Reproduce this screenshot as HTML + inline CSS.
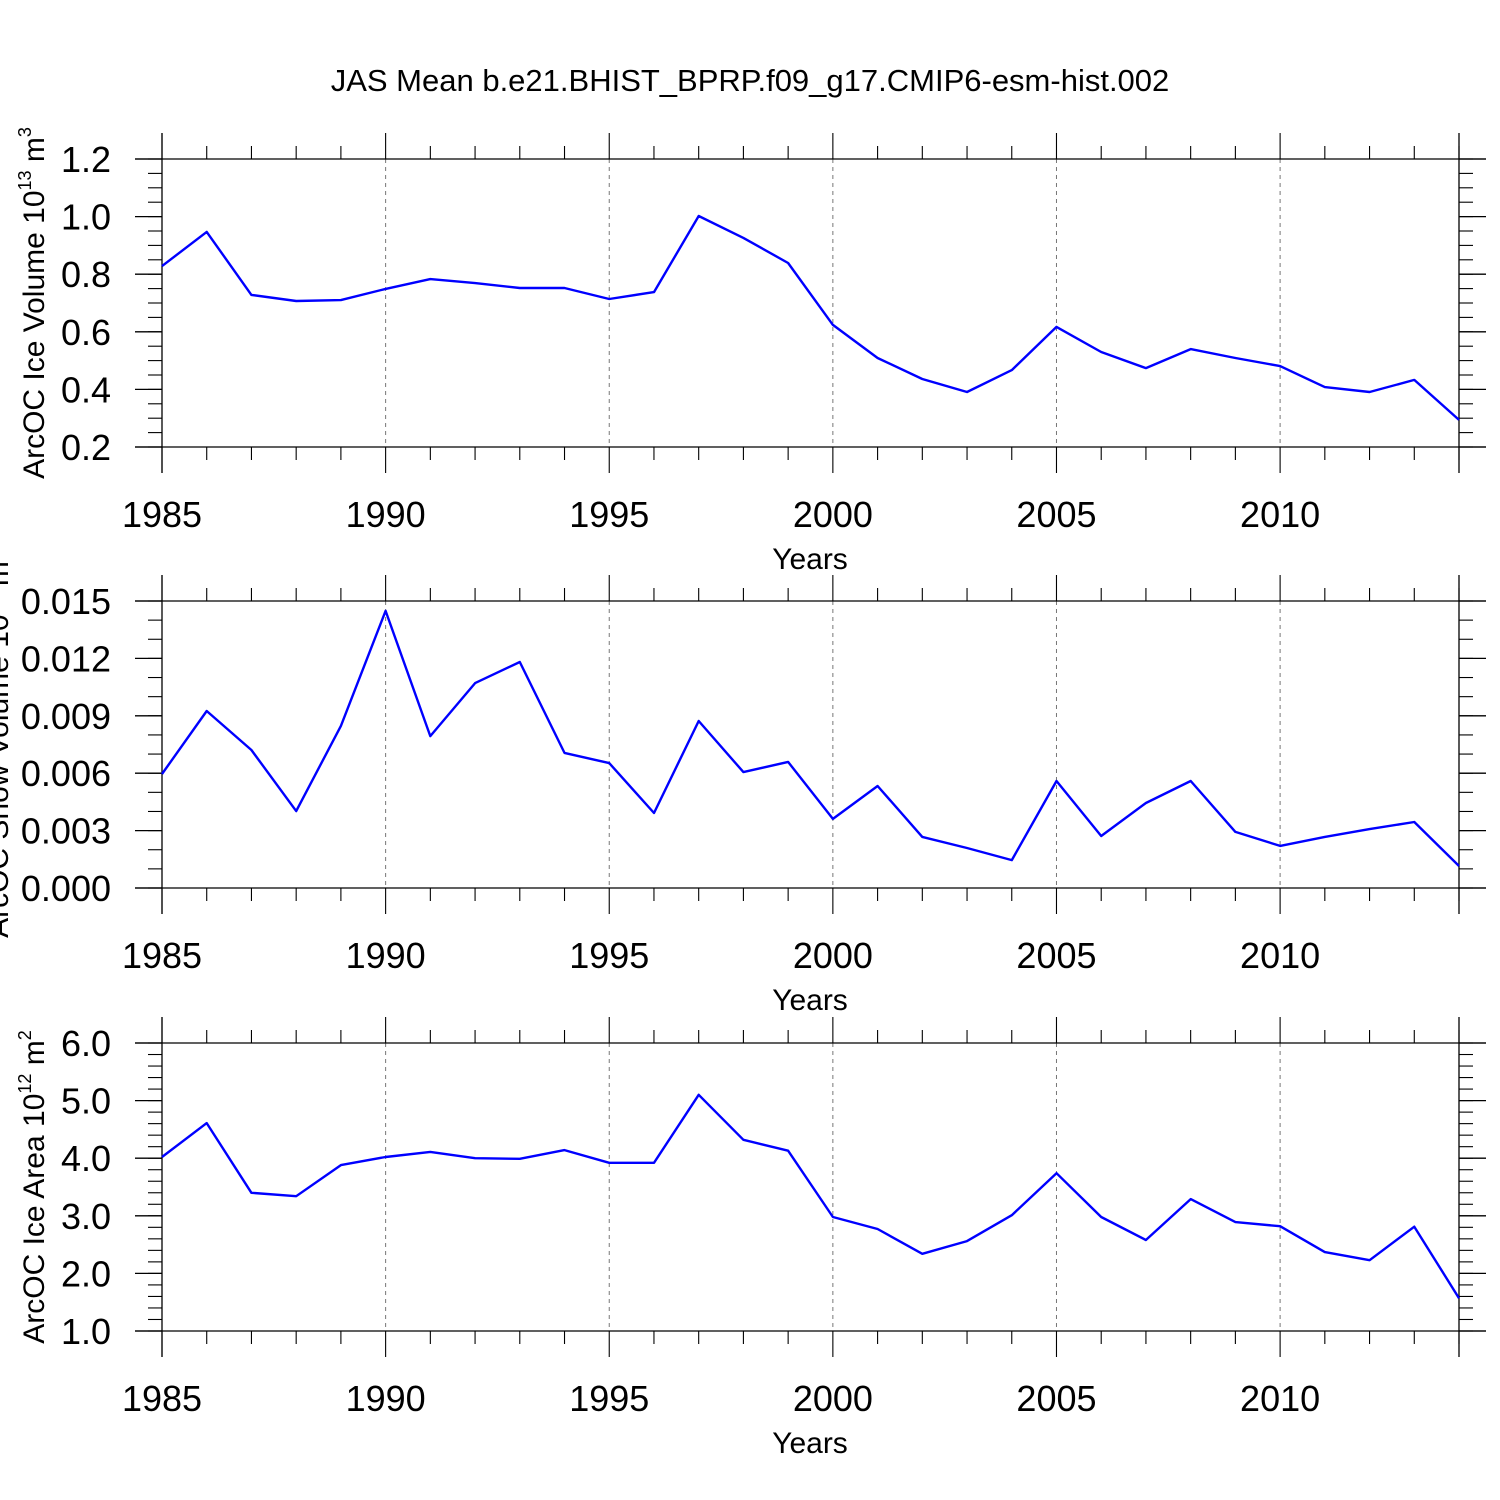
<!DOCTYPE html>
<html><head><meta charset="utf-8"><style>
html,body{margin:0;padding:0;background:#fff}
svg{display:block;font-family:"Liberation Sans",sans-serif}
</style></head><body>
<svg id="chart" width="1500" height="1500" viewBox="0 0 1500 1500" xmlns="http://www.w3.org/2000/svg">
<text x="750" y="91" text-anchor="middle" font-size="31">JAS Mean b.e21.BHIST_BPRP.f09_g17.CMIP6-esm-hist.002</text>
</svg>
<script>
const years = [1985,1986,1987,1988,1989,1990,1991,1992,1993,1994,1995,1996,1997,1998,1999,2000,2001,2002,2003,2004,2005,2006,2007,2008,2009,2010,2011,2012,2013,2014];
const iceVolume = [0.828,0.947,0.728,0.707,0.710,0.749,0.783,0.769,0.752,0.752,0.714,0.738,1.002,0.926,0.839,0.624,0.509,0.436,0.391,0.467,0.617,0.530,0.474,0.540,0.509,0.481,0.408,0.391,0.433,0.294];
const snowVolume = [0.00596,0.00925,0.00721,0.00402,0.00847,0.01448,0.00794,0.01071,0.01181,0.00706,0.00653,0.00392,0.00873,0.00606,0.00659,0.00361,0.00533,0.00267,0.00209,0.00146,0.00559,0.00272,0.00444,0.00559,0.00293,0.00220,0.00267,0.00308,0.00345,0.00115];
const iceArea = [4.02,4.61,3.40,3.34,3.88,4.02,4.11,4.00,3.99,4.14,3.92,3.92,5.10,4.32,4.13,2.98,2.77,2.34,2.56,3.01,3.74,2.98,2.58,3.29,2.89,2.82,2.37,2.23,2.81,1.57];
const xTickLabels = ["1985","1990","1995","2000","2005","2010"];
const volTicks = ["0.2","0.4","0.6","0.8","1.0","1.2"];
const snowTicks = ["0.000","0.003","0.006","0.009","0.012","0.015"];
const areaTicks = ["1.0","2.0","3.0","4.0","5.0","6.0"];

const NS="http://www.w3.org/2000/svg";
const svg=document.getElementById('chart');
const X0=162,X1=1459;
function xs(yr){return X0+(yr-1985)*(X1-X0)/29;}
function mk(tag,attrs,parent){const e=document.createElementNS(NS,tag);for(const k in attrs)e.setAttribute(k,attrs[k]);(parent||svg).appendChild(e);return e;}

function panel(opt){
  const g=mk('g',{});
  
  
  const top=opt.top,bot=opt.bot,ymin=opt.ymin,ymax=opt.ymax;
  const ys=v=>bot-(v-ymin)*(bot-top)/(ymax-ymin);
  for(let yr=1990;yr<=2010;yr+=5){
    const l=mk('line',{x1:xs(yr),x2:xs(yr),y1:top,y2:bot,stroke:'#777','stroke-width':1,'stroke-dasharray':'4,4'},g);
    
    
  }
  mk('line',{x1:135,x2:1486,y1:top,y2:top,stroke:'#000','stroke-width':1.3},g);
  mk('line',{x1:135,x2:1486,y1:bot,y2:bot,stroke:'#000','stroke-width':1.3},g);
  mk('line',{x1:X0,x2:X0,y1:top-26,y2:bot+26,stroke:'#000','stroke-width':1.3},g);
  mk('line',{x1:X1,x2:X1,y1:top-26,y2:bot+26,stroke:'#000','stroke-width':1.3},g);
  for(let yr=1985;yr<=2014;yr++){
    const major=(yr%5===0);const L=major?26:13;
    mk('line',{x1:xs(yr),x2:xs(yr),y1:top-L,y2:top,stroke:'#000','stroke-width':1.1},g);
    mk('line',{x1:xs(yr),x2:xs(yr),y1:bot,y2:bot+L,stroke:'#000','stroke-width':1.1},g);
  }
  xTickLabels.forEach(s=>{
    const t=mk('text',{x:xs(+s),y:bot+80,'text-anchor':'middle','font-size':36},g);
    t.textContent=s;
    
    
  });
  const xt=mk('text',{x:810,y:bot+122,'text-anchor':'middle','font-size':30},g);
  xt.textContent='Years';
  
  
  const nMin=Math.round((ymax-ymin)/opt.minor);
  for(let i=0;i<=nMin;i++){
    const v=ymin+i*opt.minor;const y=ys(v);
    mk('line',{x1:X0-14,x2:X0,y1:y,y2:y,stroke:'#000','stroke-width':1.1},g);
    mk('line',{x1:X1,x2:X1+14,y1:y,y2:y,stroke:'#000','stroke-width':1.1},g);
  }
  opt.labels.forEach(s=>{
    const y=ys(parseFloat(s));
    mk('line',{x1:135,x2:X0,y1:y,y2:y,stroke:'#000','stroke-width':1.3},g);
    mk('line',{x1:X1,x2:1486,y1:y,y2:y,stroke:'#000','stroke-width':1.3},g);
    const t=mk('text',{x:111,y:y+13,'text-anchor':'end','font-size':36},g);
    t.textContent=s;
    
    
  });
  const yt=mk('text',{transform:`translate(${opt.tx},${(top+bot)/2}) rotate(-90)`,'text-anchor':'middle','font-size':30},g);
  yt.innerHTML=opt.title+' 10<tspan dy="-13" font-size="18">'+opt.exp+'</tspan><tspan dy="13"> m</tspan><tspan dy="-13" font-size="18">'+opt.uexp+'</tspan>';
  
  
  const pts=years.map((yr,i)=>xs(yr).toFixed(1)+','+ys(opt.data[i]).toFixed(1)).join(' ');
  const pl=mk('polyline',{points:pts,fill:'none',stroke:'#0000ff','stroke-width':2.4,'stroke-linejoin':'round'},g);
  
  
}
panel({name:'ice-volume-panel',top:159,bot:447,ymin:0.2,ymax:1.2,minor:0.05,labels:volTicks,data:iceVolume,title:'ArcOC Ice Volume',exp:'13',uexp:'3',tx:44});
panel({name:'snow-volume-panel',top:601,bot:888,ymin:0,ymax:0.015,minor:0.001,labels:snowTicks,data:snowVolume,title:'ArcOC Snow Volume',exp:'13',uexp:'3',tx:8});
panel({name:'ice-area-panel',top:1043,bot:1331,ymin:1,ymax:6,minor:0.2,labels:areaTicks,data:iceArea,title:'ArcOC Ice Area',exp:'12',uexp:'2',tx:44});
</script>
</body></html>
